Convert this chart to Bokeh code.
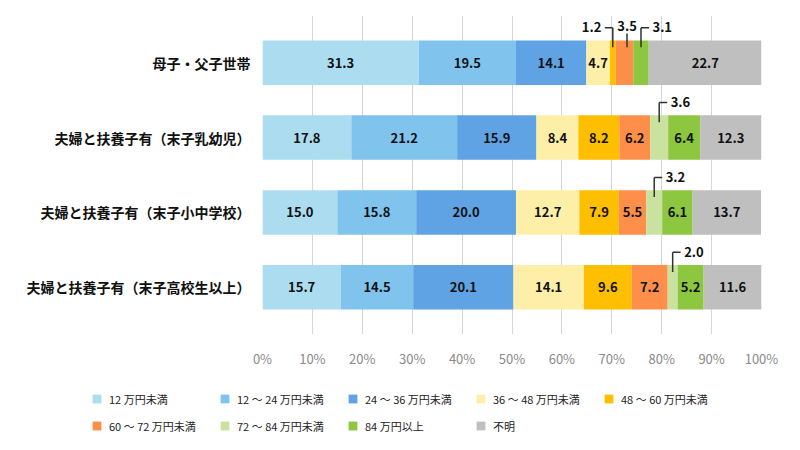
from bokeh.plotting import figure
from bokeh.models import Range1d, FixedTicker, Legend, LegendItem, ColumnDataSource
from bokeh.core.properties import value
from bokeh.embed import file_html
from bokeh.resources import INLINE

categories = ["母子・父子世帯", "夫婦と扶養子有（末子乳幼児）", "夫婦と扶養子有（末子小中学校）", "夫婦と扶養子有（末子高校生以上）"]
series_labels = ["12 万円未満", "12 ～ 24 万円未満", "24 ～ 36 万円未満", "36 ～ 48 万円未満",
                 "48 ～ 60 万円未満", "60 ～ 72 万円未満", "72 ～ 84 万円未満", "84 万円以上", "不明"]

s_lt12 = [31.3, 17.8, 15.0, 15.7]
s_12_24 = [19.5, 21.2, 15.8, 14.5]
s_24_36 = [14.1, 15.9, 20.0, 20.1]
s_36_48 = [4.7, 8.4, 12.7, 14.1]
s_48_60 = [1.2, 8.2, 7.9, 9.6]
s_60_72 = [3.5, 6.2, 5.5, 7.2]
s_72_84 = [0.0, 3.6, 3.2, 2.0]
s_84up = [3.1, 6.4, 6.1, 5.2]
s_unknown = [22.7, 12.3, 13.7, 11.6]

series = [s_lt12, s_12_24, s_24_36, s_36_48, s_48_60, s_60_72, s_72_84, s_84up, s_unknown]
colors = ["#abdcf0", "#80c4ee", "#5fa3e4", "#fdefa8", "#fdbf00", "#fd8f4a", "#c9e2a0", "#8dc63f", "#bfbfbf"]

tick_values = [0, 10, 20, 30, 40, 50, 60, 70, 80, 90, 100]
tick_labels = [f"{v}%" for v in tick_values]

# callouts: (row, series index, side)
callouts = [(0, 4, "left"), (0, 5, "up"), (0, 7, "right"), (1, 6, "right"), (2, 6, "right"), (3, 6, "right")]

FONT = "Noto Sans CJK JP"

p = figure(width=800, height=370, output_backend="svg", toolbar_location=None,
           x_range=Range1d(0, 100), y_range=Range1d(3.63, -0.63),
           min_border_left=262, min_border_right=39, min_border_top=15, min_border_bottom=32)
p.outline_line_color = None
p.ygrid.grid_line_color = None
p.xgrid.grid_line_color = "#d6d6d6"
p.xgrid.grid_line_width = 1
p.xgrid.ticker = FixedTicker(ticks=tick_values)

p.xaxis.ticker = FixedTicker(ticks=tick_values)
p.xaxis.major_label_overrides = {v: l for v, l in zip(tick_values, tick_labels)}
p.xaxis.axis_line_color = None
p.xaxis.major_tick_line_color = None
p.xaxis.minor_tick_line_color = None
p.xaxis.major_label_standoff = 8
p.xaxis.major_label_text_font = FONT
p.xaxis.major_label_text_font_size = "13px"
p.xaxis.major_label_text_color = "#8a8a8a"

rows = list(range(len(categories)))
p.yaxis.ticker = FixedTicker(ticks=rows)
p.yaxis.major_label_overrides = {i: c for i, c in enumerate(categories)}
p.yaxis.axis_line_color = None
p.yaxis.major_tick_line_color = None
p.yaxis.minor_tick_line_color = None
p.yaxis.major_label_standoff = 6
p.yaxis.major_label_text_font = FONT
p.yaxis.major_label_text_font_size = "14px"
p.yaxis.major_label_text_font_style = "bold"
p.yaxis.major_label_text_color = "#111111"

BAR_H = 0.594
lefts = [[0.0] * len(rows) for _ in series]
rights = [[0.0] * len(rows) for _ in series]
for r in rows:
    acc = 0.0
    for k, s in enumerate(series):
        lefts[k][r] = acc
        acc += s[r]
        rights[k][r] = acc

sources = []
for k, s in enumerate(series):
    src = ColumnDataSource(dict(y=rows, left=lefts[k], right=rights[k]))
    sources.append(src)
    p.hbar(y="y", left="left", right="right", height=BAR_H, source=src,
           fill_color=colors[k], line_color=None)

callout_keys = {(r, k) for r, k, _ in callouts}
lx, ly, lt = [], [], []
for k, s in enumerate(series):
    for r in rows:
        if s[r] > 0 and (r, k) not in callout_keys:
            lx.append((lefts[k][r] + rights[k][r]) / 2)
            ly.append(r)
            lt.append(f"{s[r]:.1f}")
p.text(x=lx, y=ly, text=lt, text_align="center", text_baseline="middle",
       text_font=value(FONT), text_font_size="13px", text_font_style="bold", text_color="#111111")

sx0, sy0, sx1, sy1 = [], [], [], []
tx_l, ty_l, tt_l = [], [], []
tx_r, ty_r, tt_r = [], [], []
tx_c, ty_c, tt_c = [], [], []
for r, k, side in callouts:
    xc = (lefts[k][r] + rights[k][r]) / 2
    v = f"{series[k][r]:.1f}"
    if side == "up":
        xv = xc + 0.5
        sx0.append(xv); sy0.append(r - 0.205); sx1.append(xv); sy1.append(r - 0.39)
        tx_c.append(xv); ty_c.append(r - 0.49); tt_c.append(v)
    else:
        d = -1 if side == "left" else 1
        sx0.append(xc); sy0.append(r - 0.205); sx1.append(xc); sy1.append(r - 0.468)
        sx0.append(xc); sy0.append(r - 0.468); sx1.append(xc + d * 1.6); sy1.append(r - 0.468)
        if side == "left":
            tx_l.append(xc - 2.3); ty_l.append(r - 0.478); tt_l.append(v)
        else:
            tx_r.append(xc + 2.3); ty_r.append(r - 0.478); tt_r.append(v)

p.segment(x0=sx0, y0=sy0, x1=sx1, y1=sy1, line_color="#333333", line_width=1.5)
for xs, ys, ts, al in [(tx_l, ty_l, tt_l, "right"), (tx_r, ty_r, tt_r, "left"), (tx_c, ty_c, tt_c, "center")]:
    p.text(x=xs, y=ys, text=ts, text_align=al, text_baseline="middle",
           text_font=value(FONT), text_font_size="13px", text_font_style="bold", text_color="#111111")

# legend figure (separate root so its frame is not aligned with the chart's)
pl = figure(width=800, height=80, output_backend="svg", toolbar_location=None,
            x_range=Range1d(0, 100), y_range=Range1d(100, 101), x_axis_type=None, y_axis_type=None,
            min_border_left=0, min_border_right=0, min_border_top=0, min_border_bottom=0)
pl.outline_line_color = None
pl.grid.visible = False
items = []
for k in range(len(series)):
    rr = pl.hbar(y="y", left="left", right="right", height=BAR_H, source=sources[k],
                 fill_color=colors[k], line_color=None)
    items.append(LegendItem(label=series_labels[k], renderers=[rr]))

legend = Legend(items=items, location=(91, 11), orientation="horizontal", ncols=5,
                glyph_width=11, glyph_height=11, label_width=110, label_height=27,
                label_standoff=7, spacing=0, padding=0, margin=0,
                border_line_color=None, background_fill_alpha=0,
                label_text_font=FONT, label_text_font_size="11px", label_text_color="#222222")
pl.add_layout(legend, "center")

open("out.html", "w").write(file_html([p, pl], INLINE))
